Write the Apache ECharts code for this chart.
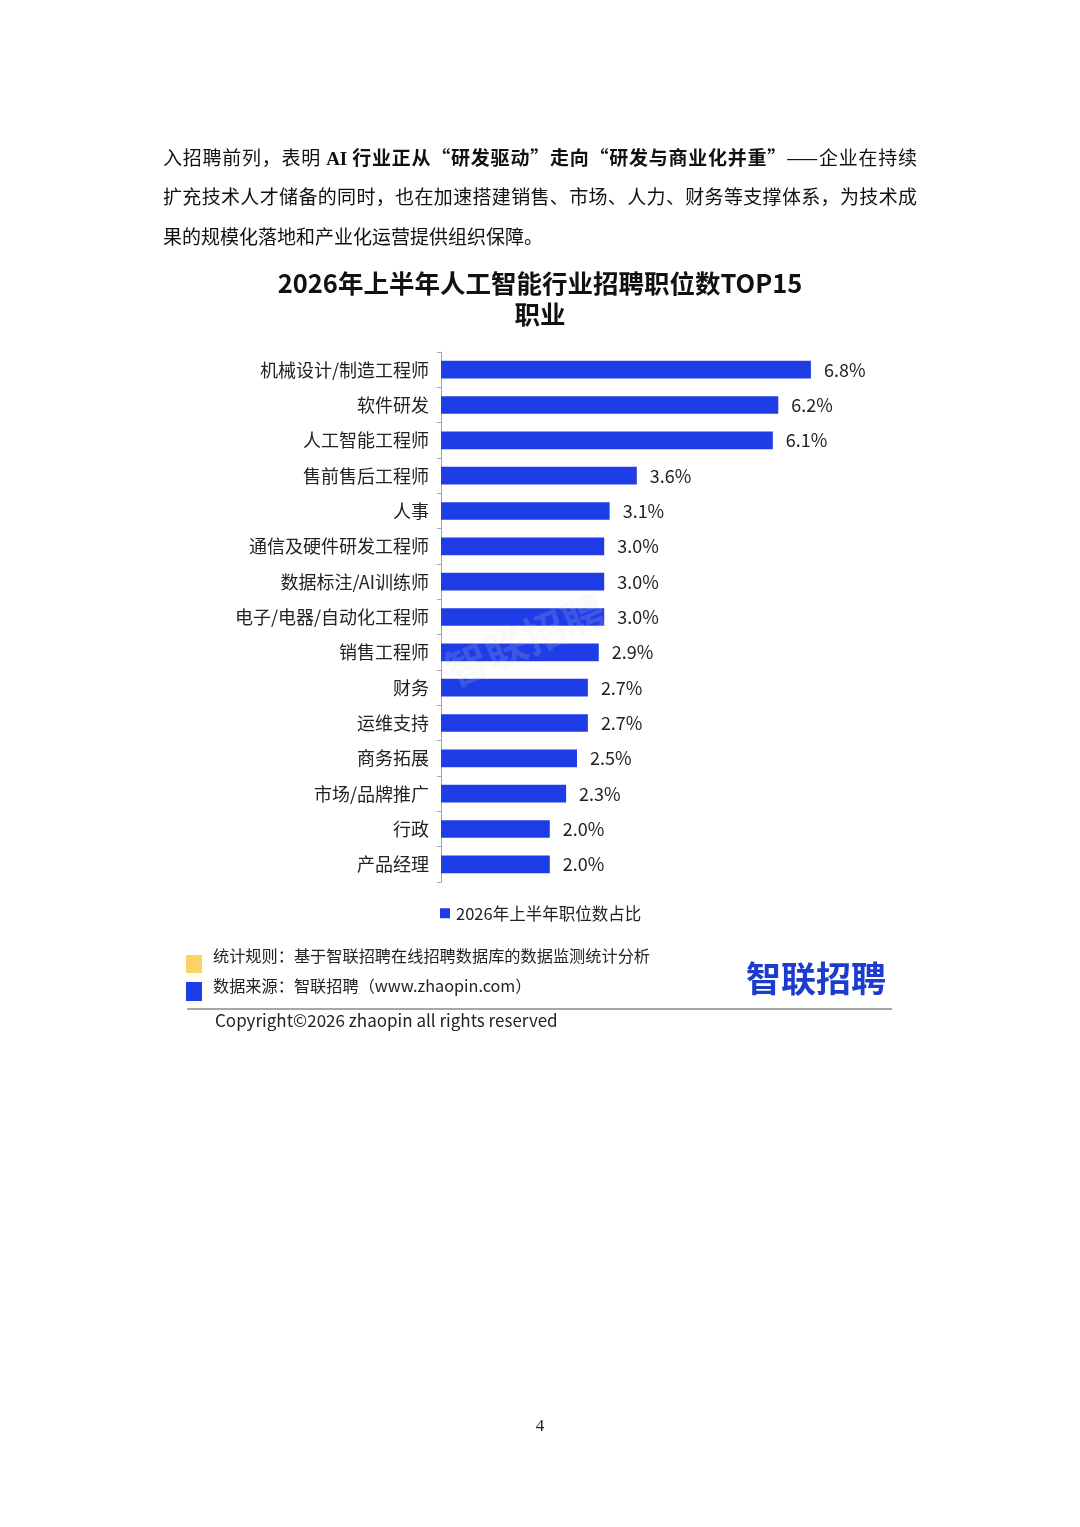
<!DOCTYPE html>
<html>
<head>
<meta charset="utf-8">
<title>2026年上半年人工智能行业招聘职位数TOP15职业</title>
<script src="https://cdn.jsdelivr.net/npm/echarts@6/dist/echarts.min.js"></script>
<style>
    body {margin: 0; background: #fff;}
    #page {position: relative; width: 1080px; height: 1527px; overflow: hidden;}
    #chart {position: absolute; left: 0; top: 0; width: 1080px; height: 1527px;}
    .line {position: absolute; left: 163px; width: 754px; height: 24px; line-height: 24px;
        font-family: "Noto Sans CJK SC", sans-serif; font-size: 19px; color: #111; white-space: nowrap;}
    .just {text-align: justify; text-align-last: justify;}
    .ai {font-family: "Liberation Serif", serif; font-weight: bold;}
    #pageNo {position: absolute; left: 0; width: 1080px; top: 1416px; text-align: center;
        font-family: "Liberation Serif", serif; font-size: 17px; color: #222;}
</style>
</head>
<body>
<div id="page">
    <div id="chart"></div>
    <div class="line just" style="top:145px">入招聘前列，表明 <span class="ai">AI</span> <b>行业正从“研发驱动”走向“研发与商业化并重”</b>——企业在持续</div>
    <div class="line just" style="top:184px">扩充技术人才储备的同时，也在加速搭建销售、市场、人力、财务等支撑体系，为技术成</div>
    <div class="line" style="top:224px">果的规模化落地和产业化运营提供组织保障。</div>
    <div id="pageNo">4</div>
</div>
<script>
var jobNames = ['机械设计/制造工程师', '软件研发', '人工智能工程师', '售前售后工程师', '人事',
    '通信及硬件研发工程师', '数据标注/AI训练师', '电子/电器/自动化工程师', '销售工程师', '财务',
    '运维支持', '商务拓展', '市场/品牌推广', '行政', '产品经理'];
var shareValues = [6.8, 6.2, 6.1, 3.6, 3.1, 3.0, 3.0, 3.0, 2.9, 2.7, 2.7, 2.5, 2.3, 2.0, 2.0];
var seriesName = '2026年上半年职位数占比';

var FONT = '"Noto Sans CJK SC", sans-serif';
var BLUE = '#1f3de6';

var chart = echarts.init(document.getElementById('chart'), null, {renderer: 'canvas'});

var option = {
    backgroundColor: 'transparent',
    textStyle: {fontFamily: FONT},
    title: {
        text: '2026年上半年人工智能行业招聘职位数TOP15\n职业',
        left: 'center',
        top: 263,
        textStyle: {fontSize: 25.5, fontWeight: 'bold', color: '#111', lineHeight: 31, fontFamily: FONT}
    },
    legend: {
        data: [seriesName],
        left: 435,
        top: 900,
        icon: 'rect',
        itemWidth: 10,
        itemHeight: 10,
        itemGap: 10,
        textStyle: {fontSize: 16.5, color: '#222', fontFamily: FONT, padding: [0, 0, 0, 1]}
    },
    grid: {left: 441, top: 352, height: 530, width: 435.2, containLabel: false},
    xAxis: {type: 'value', min: 0, max: 8, show: false, splitLine: {show: false}},
    yAxis: {
        type: 'category',
        inverse: true,
        data: jobNames,
        axisLine: {show: true, lineStyle: {color: '#a6a6a6', width: 1}},
        axisTick: {show: true, length: 4, lineStyle: {color: '#a6a6a6'}},
        axisLabel: {fontSize: 18, color: '#222', margin: 12, fontFamily: FONT}
    },
    series: [{
        name: seriesName,
        type: 'bar',
        data: shareValues,
        barCategoryGap: '50%',
        itemStyle: {color: BLUE},
        label: {
            show: true,
            position: 'right',
            distance: 13,
            fontSize: 18,
            color: '#222',
            fontFamily: FONT,
            formatter: function (p) { return p.value.toFixed(1) + '%'; }
        }
    }],
    graphic: [
        // faint watermark over the bars
        {type: 'text', x: 525, y: 640, rotation: 0.4, z: 100,
            style: {text: '智联招聘', fontSize: 42, fontWeight: 'bold', fontFamily: FONT,
                fill: 'rgba(215,218,226,0.16)', align: 'center', verticalAlign: 'middle'}},
        // footer
        {type: 'rect', shape: {x: 186, y: 955, width: 16, height: 18}, style: {fill: '#f9d463'}},
        {type: 'rect', shape: {x: 186, y: 982, width: 16, height: 19}, style: {fill: BLUE}},
        {type: 'text', x: 213, y: 956, style: {text: '统计规则：基于智联招聘在线招聘数据库的数据监测统计分析',
            fontSize: 16.2, fill: '#222', fontFamily: FONT, verticalAlign: 'middle'}},
        {type: 'text', x: 213, y: 986, style: {text: '数据来源：智联招聘（www.zhaopin.com）',
            fontSize: 16.2, fill: '#222', fontFamily: FONT, verticalAlign: 'middle'}},
        {type: 'text', x: 816, y: 979, style: {text: '智联招聘', fontSize: 35, fontWeight: 'bold',
            fill: '#1c3ccd', fontFamily: FONT, align: 'center', verticalAlign: 'middle'}},
        {type: 'line', shape: {x1: 187, y1: 1009, x2: 892, y2: 1009}, style: {stroke: '#8a8a8a', lineWidth: 1.5}},
        {type: 'text', x: 215, y: 1021, style: {text: 'Copyright©2026 zhaopin all rights reserved',
            fontSize: 17, fill: '#222', fontFamily: FONT, verticalAlign: 'middle'}}
    ]
};

chart.setOption(option);

window.onresize = function () {
    chart.resize();
};
</script>
</body>
</html>
